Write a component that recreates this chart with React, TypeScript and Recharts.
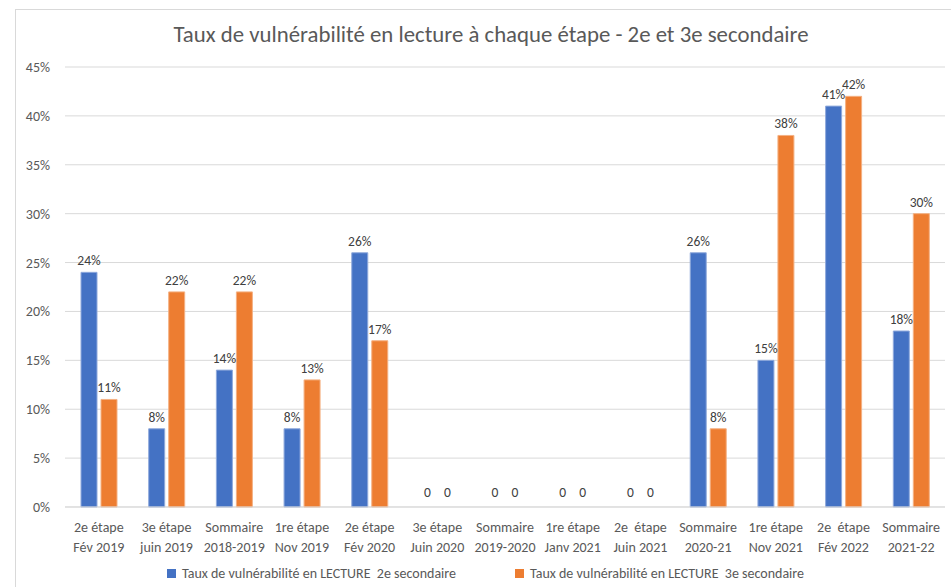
import { BarChart, Bar, Line, XAxis, YAxis, CartesianGrid, LabelList, Legend } from 'recharts';

const categories = [
  ['2e étape', 'Fév 2019'],
  ['3e étape', 'juin 2019'],
  ['Sommaire', '2018-2019'],
  ['1re étape', 'Nov 2019'],
  ['2e étape', 'Fév 2020'],
  ['3e étape', 'Juin 2020'],
  ['Sommaire', '2019-2020'],
  ['1re étape', 'Janv 2021'],
  ['2e  étape', 'Juin 2021'],
  ['Sommaire', '2020-21'],
  ['1re étape', 'Nov 2021'],
  ['2e  étape', 'Fév 2022'],
  ['Sommaire', '2021-22'],
];
const sec2 = [24, 8, 14, 8, 26, 0, 0, 0, 0, 26, 15, 41, 18];
const sec3 = [11, 22, 22, 13, 17, 0, 0, 0, 0, 8, 38, 42, 30];
const yTicks = [0, 5, 10, 15, 20, 25, 30, 35, 40, 45];

// zero bars have no rectangle, so their "0" labels ride on invisible lines
const data = categories.map((c, i) => ({
  key: String(i),
  l1: c[0],
  l2: c[1],
  sec2: sec2[i],
  sec3: sec3[i],
  z2: sec2[i] === 0 ? 0 : null,
  z3: sec3[i] === 0 ? 0 : null,
}));

const FONT = 'Carlito, "Open Sans", "Liberation Sans", sans-serif';
const TXT = '#595959';

function CatTick({ x, y, payload }: any) {
  const d = data[Number(payload.value)];
  return (
    <text x={x} y={y} textAnchor="middle" fill={TXT} fontSize={14} fontFamily={FONT} style={{ whiteSpace: 'pre' }}>
      <tspan x={x} dy={17}>{d.l1}</tspan>
      <tspan x={x} dy={20}>{d.l2}</tspan>
    </text>
  );
}

function ValueLabel(props: any) {
  const { x, y, width, value } = props;
  if (value == null || value === 0) return null;
  return (
    <text x={Number(x) + Number(width) / 2} y={Number(y) - 7} textAnchor="middle" fill="#404040" fontSize={13.5} fontFamily={FONT}>
      {`${value}%`}
    </text>
  );
}

function ZeroLabel({ dx }: { dx: number }) {
  return (props: any) => {
    const { x, y, value } = props;
    if (value == null) return null;
    return (
      <text x={Number(x) + dx} y={Number(y) - 10} textAnchor="middle" fill="#404040" fontSize={13.5} fontFamily={FONT}>
        0
      </text>
    );
  };
}

function LegendContent() {
  const items = [
    { name: 'Taux de vulnérabilité en LECTURE  2e secondaire', color: '#4472C4', left: 167 },
    { name: 'Taux de vulnérabilité en LECTURE  3e secondaire', color: '#ED7D31', left: 515 },
  ];
  return (
    <div style={{ position: 'relative', height: 30 }}>
      {items.map((it) => (
        <div key={it.name} style={{ position: 'absolute', left: it.left, top: 8, display: 'flex', alignItems: 'center', whiteSpace: 'pre', fontFamily: FONT, fontSize: 14, color: TXT }}>
          <span style={{ width: 9, height: 9, background: it.color, display: 'inline-block', marginRight: 6 }} />
          {it.name}
        </div>
      ))}
    </div>
  );
}

export default function App() {
  return (
    <div style={{ position: 'absolute', left: 0, top: 0, width: 951, height: 587, background: '#fff' }}>
      <div style={{ position: 'absolute', left: 15, top: 9, right: 0, bottom: 0, borderLeft: '1px solid #d9d9d9', borderTop: '1px solid #d9d9d9' }} />
      <div style={{ position: 'absolute', left: 0, top: 20, width: 982, textAlign: 'center', fontFamily: FONT, fontSize: 22.8, color: TXT }}>
        Taux de vulnérabilité en lecture à chaque étape - 2e et 3e secondaire
      </div>
      <div style={{ position: 'absolute', left: 0, top: 0 }}>
        <BarChart width={951} height={587} data={data} margin={{ top: 67, right: 6, left: 0, bottom: 0 }} barSize={16} barGap={4}>
          <CartesianGrid vertical={false} stroke="#d9d9d9" />
          <XAxis dataKey="key" tick={<CatTick />} tickLine={false} axisLine={{ stroke: '#d9d9d9' }} height={50} interval={0} />
          <YAxis domain={[0, 45]} ticks={yTicks} tickFormatter={(v) => `${v}%`} width={65} tickLine={false} axisLine={false} tickSize={0} tickMargin={15} tick={{ fill: TXT, fontSize: 14, fontFamily: FONT }} />
          <Legend verticalAlign="bottom" height={30} content={<LegendContent />} />
          <Bar dataKey="sec2" fill="#4472C4" stroke="#8fa9dc" strokeWidth={1} isAnimationActive={false}>
            <LabelList dataKey="sec2" content={<ValueLabel />} />
          </Bar>
          <Bar dataKey="sec3" fill="#ED7D31" stroke="#f4b183" strokeWidth={1} isAnimationActive={false}>
            <LabelList dataKey="sec3" content={<ValueLabel />} />
          </Bar>
          <Line dataKey="z2" stroke="none" dot={false} activeDot={false} legendType="none" isAnimationActive={false}>
            <LabelList dataKey="z2" content={ZeroLabel({ dx: -10 })} />
          </Line>
          <Line dataKey="z3" stroke="none" dot={false} activeDot={false} legendType="none" isAnimationActive={false}>
            <LabelList dataKey="z3" content={ZeroLabel({ dx: 10 })} />
          </Line>
        </BarChart>
      </div>
    </div>
  );
}
